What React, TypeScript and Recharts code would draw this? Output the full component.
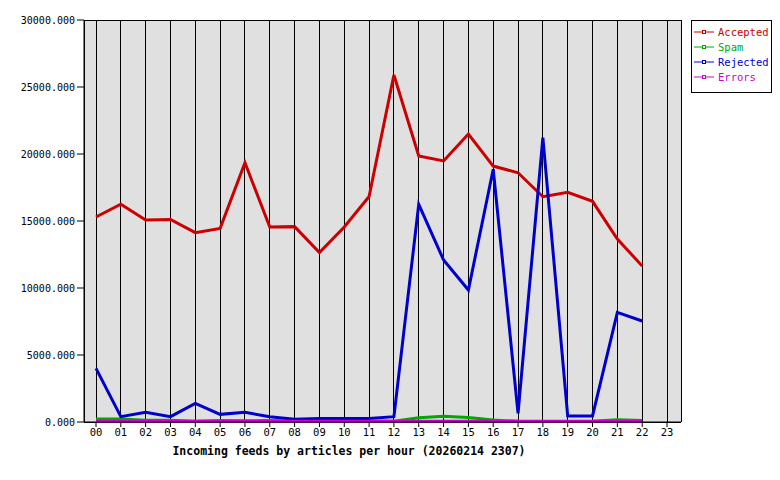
import React from 'react';
import { LineChart, Line, XAxis, YAxis, CartesianGrid } from 'recharts';

const hours = ['00', '01', '02', '03', '04', '05', '06', '07', '08', '09', '10', '11',
    '12', '13', '14', '15', '16', '17', '18', '19', '20', '21', '22', '23'];

const accepted = [15300, 16250, 15080, 15120, 14130, 14450, 19350, 14550, 14580, 12640, 14550, 16830,
    25900, 19850, 19480, 21490, 19100, 18600, 16810, 17140, 16470, 13660, 11640, null];
const spam = [220, 220, 130, 130, 60, 120, 90, 110, 60, 50, 50, 50,
    60, 320, 420, 330, 150, 50, 30, 30, 60, 170, 110, null];
const rejected = [4000, 400, 720, 400, 1390, 570, 720, 400, 200, 270, 270, 270,
    400, 16240, 12090, 9850, 18860, 650, 21220, 450, 450, 8180, 7540, null];
const errors = [50, 50, 50, 50, 50, 50, 50, 50, 50, 50, 50, 50,
    50, 50, 50, 50, 50, 50, 50, 50, 50, 50, 50, null];

const yTicks = [0, 5000, 10000, 15000, 20000, 25000, 30000];

const series = [
    { key: 'Accepted', color: '#cc0000', values: accepted },
    { key: 'Spam', color: '#00a800', values: spam },
    { key: 'Rejected', color: '#0000cc', values: rejected },
    { key: 'Errors', color: '#cc00cc', values: errors },
];

const data = hours.map((h, i) => {
    const row: Record<string, any> = { hour: h };
    series.forEach(s => { row[s.key] = s.values[i]; });
    return row;
});

const mono = '"DejaVu Sans Mono", monospace';

// legend drawn as plain html so it doesn't shrink the plot area
const LegendBox = () => (
    <div style={{
        position: 'absolute', left: 691, top: 20, width: 77, height: 68, boxSizing: 'content-box',
        border: '1px solid #000', background: '#fff', padding: '3px 0 0 2px', fontFamily: mono, fontSize: 10.5,
    }}>
        {series.map(s => (
            <div key={s.key} style={{ display: 'flex', alignItems: 'center', height: 15, color: s.color }}>
                <svg width={22} height={8} style={{ marginRight: 2 }}>
                    <line x1={0} y1={4} x2={20} y2={4} stroke={s.color} strokeWidth={1} />
                    <rect x={8.5} y={2.5} width={3} height={3} fill="#fff" stroke={s.color} strokeWidth={1} />
                </svg>
                {s.key}
            </div>
        ))}
    </div>
);

const App: React.FC = () => {
    return (
        <div style={{ position: 'absolute', left: 0, top: 0, width: 780, height: 480, background: '#fff' }}>
            <LineChart width={780} height={480} data={data} margin={{ top: 20, right: 99, left: 0, bottom: 28 }}>
                <CartesianGrid stroke="#000" fill="#e0e0e0" strokeWidth={1} shapeRendering="crispEdges" />
                <XAxis
                    dataKey="hour"
                    interval={0}
                    height={30}
                    padding={{ left: 12, right: 14 }}
                    stroke="#000"
                    tickSize={5}
                    tick={{ fill: '#000', fontFamily: mono, fontSize: 10.5 }}
                />
                <YAxis
                    yAxisId="left"
                    width={84}
                    domain={[0, 30000]}
                    ticks={yTicks}
                    tickSize={7}
                    tickMargin={2}
                    stroke="#000"
                    tickFormatter={(v: number) => v.toFixed(3)}
                    tick={{ fill: '#000', fontFamily: mono, fontSize: 10 }}
                />
                <YAxis yAxisId="right" orientation="right" width={0} domain={[0, 30000]} tick={false} stroke="#000" />
                {series.map(s => (
                    <Line
                        key={s.key}
                        yAxisId="left"
                        type="linear"
                        dataKey={s.key}
                        stroke={s.color}
                        strokeWidth={3}
                        dot={false}
                        activeDot={false}
                        isAnimationActive={false}
                    />
                ))}
            </LineChart>
            <LegendBox />
            <div style={{ position: 'absolute', left: 0, width: 698, top: 444, textAlign: 'center', fontFamily: mono, fontSize: 11.5, fontWeight: 'bold', color: '#000' }}>
                Incoming feeds by articles per hour (20260214 2307)
            </div>
        </div>
    );
};

export default App;
